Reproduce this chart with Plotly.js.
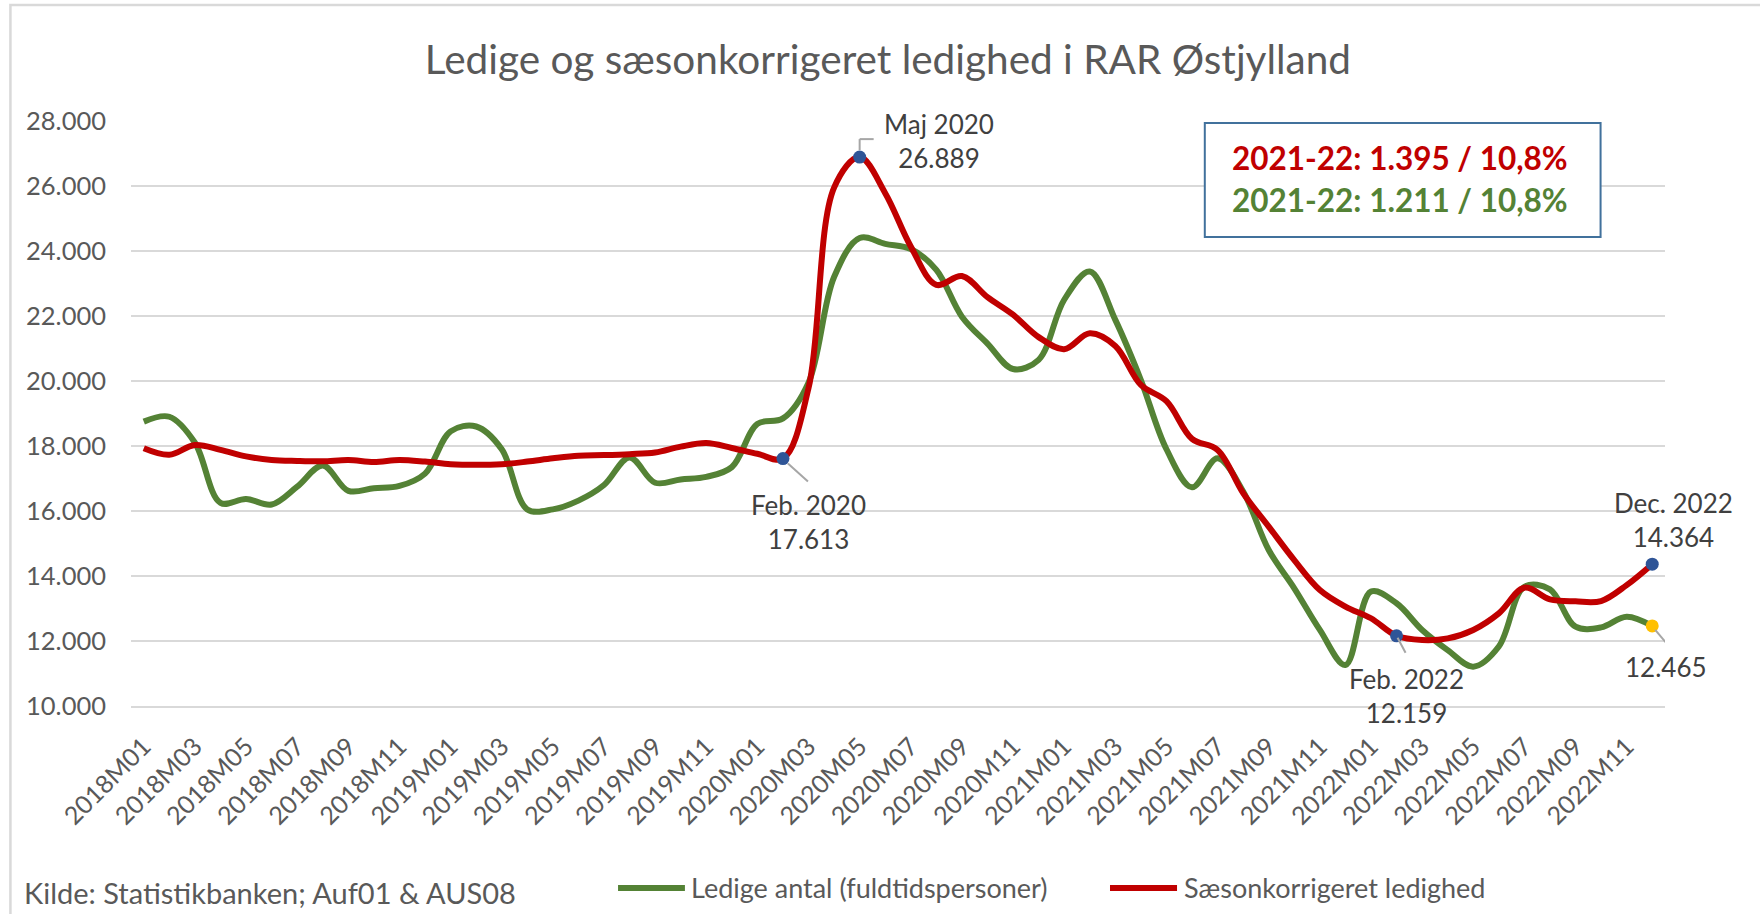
<!DOCTYPE html>
<html>
<head>
<meta charset="utf-8">
<script src="https://cdn.plot.ly/plotly-3.0.1.min.js"></script>
<style>
html,body{margin:0;padding:0;background:#ffffff;}
#chart{width:1760px;height:914px;}
</style>
</head>
<body>
<div id="chart"></div>
<script>
// ---- data ----
const months = [
 "2018M01","2018M02","2018M03","2018M04","2018M05","2018M06","2018M07","2018M08","2018M09","2018M10","2018M11","2018M12",
 "2019M01","2019M02","2019M03","2019M04","2019M05","2019M06","2019M07","2019M08","2019M09","2019M10","2019M11","2019M12",
 "2020M01","2020M02","2020M03","2020M04","2020M05","2020M06","2020M07","2020M08","2020M09","2020M10","2020M11","2020M12",
 "2021M01","2021M02","2021M03","2021M04","2021M05","2021M06","2021M07","2021M08","2021M09","2021M10","2021M11","2021M12",
 "2022M01","2022M02","2022M03","2022M04","2022M05","2022M06","2022M07","2022M08","2022M09","2022M10","2022M11","2022M12"
];
const tickLabels = [
 "2018M01","2018M03","2018M05","2018M07","2018M09","2018M11",
 "2019M01","2019M03","2019M05","2019M07","2019M09","2019M11",
 "2020M01","2020M03","2020M05","2020M07","2020M09","2020M11",
 "2021M01","2021M03","2021M05","2021M07","2021M09","2021M11",
 "2022M01","2022M03","2022M05","2022M07","2022M09","2022M11"
];
// Ledige antal (fuldtidspersoner)
const ledige = [
 18750,18900,18100,16250,16370,16200,16750,17400,16620,16700,16770,17150,
 18450,18600,17900,16050,16050,16320,16800,17650,16870,16970,17050,17350,
 18680,18850,19950,23200,24400,24220,24060,23420,21980,21150,20370,20650,
 22500,23370,21880,20030,17900,16730,17620,16600,14800,13620,12340,11260,
 13520,13160,12340,11720,11210,11830,13670,13590,12440,12420,12750,12465
];
// Sæsonkorrigeret ledighed
const saeson = [
 17930,17730,18030,17880,17680,17570,17540,17530,17570,17510,17570,17520,
 17440,17420,17440,17520,17620,17700,17720,17750,17800,17980,18090,17940,
 17760,17613,19780,25950,26889,25780,24140,22960,23230,22580,22040,21350,
 20980,21470,21080,19880,19380,18220,17880,16550,15520,14490,13570,13060,
 12700,12159,12030,12080,12340,12850,13640,13280,13220,13230,13720,14364
];
const seriesNames = ["Ledige antal (fuldtidspersoner)", "Sæsonkorrigeret ledighed"];
const highlightIdx = [25, 28, 49, 59];
const highlightNames = ["Feb. 2020", "Maj 2020", "Feb. 2022", "Dec. 2022"];
const boxLines = ["2021-22: 1.395 / 10,8%", "2021-22: 1.211 / 10,8%"];
const titleText = "Ledige og sæsonkorrigeret ledighed i RAR Østjylland";
const sourceText = "Kilde: Statistikbanken; Auf01 & AUS08";

// ---- styling ----
const GREEN = "#548235", RED = "#C00000", BLUE = "#2F5597", YELLOW = "#FFC000";
const GRAY = "#595959", LBL = "#404040", GRID = "#D9D9D9", LEAD = "#A6A6A6";
const FONT = "Lato, 'Open Sans', sans-serif";

function fmt(v){ return String(Math.round(v)).replace(/\B(?=(\d{3})+(?!\d))/g, "."); }

const traces = [
  {x: months, y: ledige, type: "scatter", mode: "lines", name: seriesNames[0],
   line: {color: GREEN, width: 6, shape: "spline", smoothing: 1}, showlegend: false},
  {x: months, y: saeson, type: "scatter", mode: "lines", name: seriesNames[1],
   line: {color: RED, width: 6, shape: "spline", smoothing: 1}, showlegend: false},
  {x: highlightIdx.map(i => months[i]), y: highlightIdx.map(i => saeson[i]), type: "scatter", mode: "markers",
   marker: {color: BLUE, size: 13}, showlegend: false, cliponaxis: false},
  {x: [months[59]], y: [ledige[59]], type: "scatter", mode: "markers",
   marker: {color: YELLOW, size: 13}, showlegend: false, cliponaxis: false}
];

// data label offsets (pixels) for highlighted points
const lblShift = [[26,-63],[79,16],[10,-60],[21,44]];
const annotations = highlightIdx.map((idx, k) => ({
  x: months[idx], y: saeson[idx], xref: "x", yref: "y", showarrow: false,
  text: highlightNames[k] + "<br>" + fmt(saeson[idx]),
  xshift: lblShift[k][0], yshift: lblShift[k][1],
  font: {family: FONT, size: 26, color: LBL}, align: "center"
}));
annotations.push({
  x: months[59], y: ledige[59], xref: "x", yref: "y", showarrow: false,
  text: fmt(ledige[59]), xshift: 14, yshift: -41,
  font: {family: FONT, size: 26, color: LBL}
});
// text box lines
annotations.push({x: 0.7164, y: 0.937, xref: "paper", yref: "paper", xanchor: "left", yanchor: "middle",
  showarrow: false, text: "<b>" + boxLines[0] + "</b>", font: {family: FONT, size: 31.5, color: RED}});
annotations.push({x: 0.7164, y: 0.865, xref: "paper", yref: "paper", xanchor: "left", yanchor: "middle",
  showarrow: false, text: "<b>" + boxLines[1] + "</b>", font: {family: FONT, size: 31.5, color: GREEN}});
// legend texts
annotations.push({x: 0.3638, y: -0.311, xref: "paper", yref: "paper", xanchor: "left", yanchor: "middle",
  showarrow: false, text: seriesNames[0], font: {family: FONT, size: 27, color: GRAY}});
annotations.push({x: 0.6851, y: -0.311, xref: "paper", yref: "paper", xanchor: "left", yanchor: "middle",
  showarrow: false, text: seriesNames[1], font: {family: FONT, size: 27, color: GRAY}});
// source
annotations.push({x: -0.0711, y: -0.318, xref: "paper", yref: "paper", xanchor: "left", yanchor: "middle",
  showarrow: false, text: sourceText, font: {family: FONT, size: 29, color: GRAY}});

function lead(idx, yv, x0, y0, x1, y1){
  return {type: "line", xref: "x", yref: "y", xsizemode: "pixel", ysizemode: "pixel",
    xanchor: months[idx], yanchor: yv, x0: x0, y0: y0, x1: x1, y1: y1,
    line: {color: LEAD, width: 2}, layer: "above"};
}
const shapes = [
  // chart frame (left and top edges)
  {type: "path", xref: "paper", yref: "paper", path: "M -0.0786,-0.37 L -0.0786,1.1983 L 1.08,1.1983",
   line: {color: GRID, width: 2.5}},
  // text box
  {type: "rect", xref: "paper", yref: "paper", x0: 0.700, x1: 0.958, y0: 0.8017, y1: 0.9966,
   line: {color: "#41719C", width: 2}, fillcolor: "#FFFFFF", layer: "above"},
  // legend samples
  {type: "line", xref: "paper", yref: "paper", x0: 0.3175, x1: 0.3611, y0: -0.311, y1: -0.311,
   line: {color: GREEN, width: 6}},
  {type: "line", xref: "paper", yref: "paper", x0: 0.6382, x1: 0.6819, y0: -0.311, y1: -0.311,
   line: {color: RED, width: 6}},
  // leader lines
  lead(25, saeson[25], 5, -5, 25, -23),
  lead(28, saeson[28], 0, 7, 0, 18),
  lead(28, saeson[28], 0, 18, 14, 18),
  lead(49, saeson[49], 1, -2, 9, -17),
  lead(59, ledige[59], 3, -4, 14, -17)
];

const layout = {
  width: 1760, height: 914,
  margin: {l: 131, r: 95, t: 121, b: 208},
  paper_bgcolor: "#FFFFFF", plot_bgcolor: "#FFFFFF",
  separators: ",.",
  hovermode: false,
  showlegend: false,
  font: {family: FONT, color: GRAY},
  title: {text: titleText, x: 0.5045, xref: "container", xanchor: "center",
          y: 0.9345, yref: "container", yanchor: "middle",
          font: {family: FONT, size: 40.5, color: GRAY}},
  xaxis: {type: "category", categoryorder: "array", categoryarray: months,
          range: [-0.5, 59.5], tickmode: "array", tickvals: tickLabels, ticktext: tickLabels,
          tickangle: -45, showgrid: false, zeroline: false, showline: true, linecolor: GRID, linewidth: 2,
          ticks: "", ticklabelstandoff: 14, tickfont: {family: FONT, size: 25, color: GRAY}},
  yaxis: {range: [10000, 28000], dtick: 2000, tick0: 10000, tickformat: ",d",
          showgrid: true, gridcolor: GRID, gridwidth: 2, zeroline: false, showline: false,
          ticks: "", ticklabelstandoff: 24, tickfont: {family: FONT, size: 25.5, color: GRAY}},
  annotations: annotations,
  shapes: shapes
};

Plotly.newPlot("chart", traces, layout, {displayModeBar: false, staticPlot: true});
</script>
</body>
</html>
